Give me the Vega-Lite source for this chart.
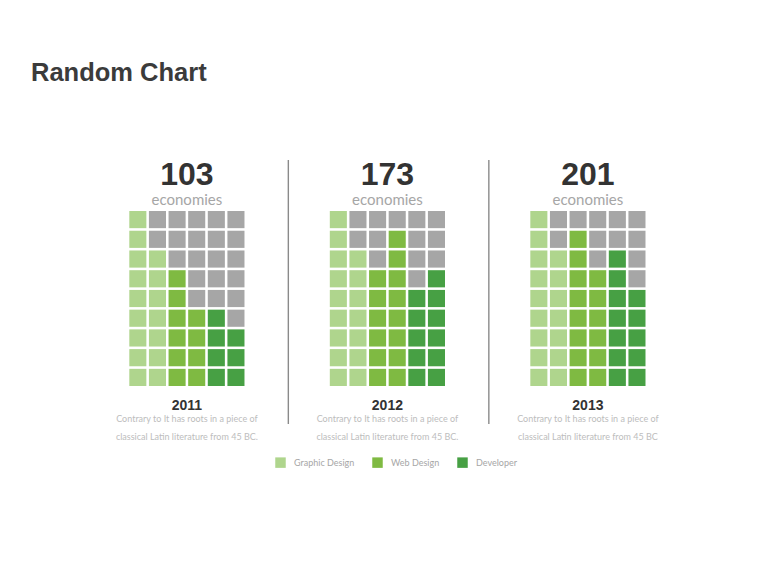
{
  "$schema": "https://vega.github.io/schema/vega-lite/v6.json",
  "width": 780,
  "height": 495,
  "autosize": {"type": "none"},
  "padding": {"left": 0, "top": 90, "right": 0, "bottom": 0},
  "background": "white",
  "title": {"text": "Random Chart", "anchor": "start", "frame": "group", "dx": 31, "offset": 4, "font": "Liberation Sans", "fontSize": 25.5, "fontWeight": "bold", "color": "#3b3b3b"},
  "config": {"view": {"stroke": null}},
  "datasets": {
    "years": [
      {"year": "2011", "total": 103, "unit": "economies", "line1": "Contrary to It has roots in a piece of", "line2": "classical Latin literature from 45 BC."},
      {"year": "2012", "total": 173, "unit": "economies", "line1": "Contrary to It has roots in a piece of", "line2": "classical Latin literature from 45 BC."},
      {"year": "2013", "total": 201, "unit": "economies", "line1": "Contrary to It has roots in a piece of", "line2": "classical Latin literature from 45 BC"}
    ],
    "cells": [
      {"year":"2011","row":1,"col":1,"cat":"Graphic Design"},{"year":"2011","row":1,"col":2,"cat":"Other"},{"year":"2011","row":1,"col":3,"cat":"Other"},{"year":"2011","row":1,"col":4,"cat":"Other"},{"year":"2011","row":1,"col":5,"cat":"Other"},{"year":"2011","row":1,"col":6,"cat":"Other"},
      {"year":"2011","row":2,"col":1,"cat":"Graphic Design"},{"year":"2011","row":2,"col":2,"cat":"Other"},{"year":"2011","row":2,"col":3,"cat":"Other"},{"year":"2011","row":2,"col":4,"cat":"Other"},{"year":"2011","row":2,"col":5,"cat":"Other"},{"year":"2011","row":2,"col":6,"cat":"Other"},
      {"year":"2011","row":3,"col":1,"cat":"Graphic Design"},{"year":"2011","row":3,"col":2,"cat":"Graphic Design"},{"year":"2011","row":3,"col":3,"cat":"Other"},{"year":"2011","row":3,"col":4,"cat":"Other"},{"year":"2011","row":3,"col":5,"cat":"Other"},{"year":"2011","row":3,"col":6,"cat":"Other"},
      {"year":"2011","row":4,"col":1,"cat":"Graphic Design"},{"year":"2011","row":4,"col":2,"cat":"Graphic Design"},{"year":"2011","row":4,"col":3,"cat":"Web Design"},{"year":"2011","row":4,"col":4,"cat":"Other"},{"year":"2011","row":4,"col":5,"cat":"Other"},{"year":"2011","row":4,"col":6,"cat":"Other"},
      {"year":"2011","row":5,"col":1,"cat":"Graphic Design"},{"year":"2011","row":5,"col":2,"cat":"Graphic Design"},{"year":"2011","row":5,"col":3,"cat":"Web Design"},{"year":"2011","row":5,"col":4,"cat":"Other"},{"year":"2011","row":5,"col":5,"cat":"Other"},{"year":"2011","row":5,"col":6,"cat":"Other"},
      {"year":"2011","row":6,"col":1,"cat":"Graphic Design"},{"year":"2011","row":6,"col":2,"cat":"Graphic Design"},{"year":"2011","row":6,"col":3,"cat":"Web Design"},{"year":"2011","row":6,"col":4,"cat":"Web Design"},{"year":"2011","row":6,"col":5,"cat":"Developer"},{"year":"2011","row":6,"col":6,"cat":"Other"},
      {"year":"2011","row":7,"col":1,"cat":"Graphic Design"},{"year":"2011","row":7,"col":2,"cat":"Graphic Design"},{"year":"2011","row":7,"col":3,"cat":"Web Design"},{"year":"2011","row":7,"col":4,"cat":"Web Design"},{"year":"2011","row":7,"col":5,"cat":"Developer"},{"year":"2011","row":7,"col":6,"cat":"Developer"},
      {"year":"2011","row":8,"col":1,"cat":"Graphic Design"},{"year":"2011","row":8,"col":2,"cat":"Graphic Design"},{"year":"2011","row":8,"col":3,"cat":"Web Design"},{"year":"2011","row":8,"col":4,"cat":"Web Design"},{"year":"2011","row":8,"col":5,"cat":"Developer"},{"year":"2011","row":8,"col":6,"cat":"Developer"},
      {"year":"2011","row":9,"col":1,"cat":"Graphic Design"},{"year":"2011","row":9,"col":2,"cat":"Graphic Design"},{"year":"2011","row":9,"col":3,"cat":"Web Design"},{"year":"2011","row":9,"col":4,"cat":"Web Design"},{"year":"2011","row":9,"col":5,"cat":"Developer"},{"year":"2011","row":9,"col":6,"cat":"Developer"},
      {"year":"2012","row":1,"col":1,"cat":"Graphic Design"},{"year":"2012","row":1,"col":2,"cat":"Other"},{"year":"2012","row":1,"col":3,"cat":"Other"},{"year":"2012","row":1,"col":4,"cat":"Other"},{"year":"2012","row":1,"col":5,"cat":"Other"},{"year":"2012","row":1,"col":6,"cat":"Other"},
      {"year":"2012","row":2,"col":1,"cat":"Graphic Design"},{"year":"2012","row":2,"col":2,"cat":"Other"},{"year":"2012","row":2,"col":3,"cat":"Other"},{"year":"2012","row":2,"col":4,"cat":"Web Design"},{"year":"2012","row":2,"col":5,"cat":"Other"},{"year":"2012","row":2,"col":6,"cat":"Other"},
      {"year":"2012","row":3,"col":1,"cat":"Graphic Design"},{"year":"2012","row":3,"col":2,"cat":"Graphic Design"},{"year":"2012","row":3,"col":3,"cat":"Other"},{"year":"2012","row":3,"col":4,"cat":"Web Design"},{"year":"2012","row":3,"col":5,"cat":"Other"},{"year":"2012","row":3,"col":6,"cat":"Other"},
      {"year":"2012","row":4,"col":1,"cat":"Graphic Design"},{"year":"2012","row":4,"col":2,"cat":"Graphic Design"},{"year":"2012","row":4,"col":3,"cat":"Web Design"},{"year":"2012","row":4,"col":4,"cat":"Web Design"},{"year":"2012","row":4,"col":5,"cat":"Other"},{"year":"2012","row":4,"col":6,"cat":"Developer"},
      {"year":"2012","row":5,"col":1,"cat":"Graphic Design"},{"year":"2012","row":5,"col":2,"cat":"Graphic Design"},{"year":"2012","row":5,"col":3,"cat":"Web Design"},{"year":"2012","row":5,"col":4,"cat":"Web Design"},{"year":"2012","row":5,"col":5,"cat":"Developer"},{"year":"2012","row":5,"col":6,"cat":"Developer"},
      {"year":"2012","row":6,"col":1,"cat":"Graphic Design"},{"year":"2012","row":6,"col":2,"cat":"Graphic Design"},{"year":"2012","row":6,"col":3,"cat":"Web Design"},{"year":"2012","row":6,"col":4,"cat":"Web Design"},{"year":"2012","row":6,"col":5,"cat":"Developer"},{"year":"2012","row":6,"col":6,"cat":"Developer"},
      {"year":"2012","row":7,"col":1,"cat":"Graphic Design"},{"year":"2012","row":7,"col":2,"cat":"Graphic Design"},{"year":"2012","row":7,"col":3,"cat":"Web Design"},{"year":"2012","row":7,"col":4,"cat":"Web Design"},{"year":"2012","row":7,"col":5,"cat":"Developer"},{"year":"2012","row":7,"col":6,"cat":"Developer"},
      {"year":"2012","row":8,"col":1,"cat":"Graphic Design"},{"year":"2012","row":8,"col":2,"cat":"Graphic Design"},{"year":"2012","row":8,"col":3,"cat":"Web Design"},{"year":"2012","row":8,"col":4,"cat":"Web Design"},{"year":"2012","row":8,"col":5,"cat":"Developer"},{"year":"2012","row":8,"col":6,"cat":"Developer"},
      {"year":"2012","row":9,"col":1,"cat":"Graphic Design"},{"year":"2012","row":9,"col":2,"cat":"Graphic Design"},{"year":"2012","row":9,"col":3,"cat":"Web Design"},{"year":"2012","row":9,"col":4,"cat":"Web Design"},{"year":"2012","row":9,"col":5,"cat":"Developer"},{"year":"2012","row":9,"col":6,"cat":"Developer"},
      {"year":"2013","row":1,"col":1,"cat":"Graphic Design"},{"year":"2013","row":1,"col":2,"cat":"Other"},{"year":"2013","row":1,"col":3,"cat":"Other"},{"year":"2013","row":1,"col":4,"cat":"Other"},{"year":"2013","row":1,"col":5,"cat":"Other"},{"year":"2013","row":1,"col":6,"cat":"Other"},
      {"year":"2013","row":2,"col":1,"cat":"Graphic Design"},{"year":"2013","row":2,"col":2,"cat":"Other"},{"year":"2013","row":2,"col":3,"cat":"Web Design"},{"year":"2013","row":2,"col":4,"cat":"Other"},{"year":"2013","row":2,"col":5,"cat":"Other"},{"year":"2013","row":2,"col":6,"cat":"Other"},
      {"year":"2013","row":3,"col":1,"cat":"Graphic Design"},{"year":"2013","row":3,"col":2,"cat":"Graphic Design"},{"year":"2013","row":3,"col":3,"cat":"Web Design"},{"year":"2013","row":3,"col":4,"cat":"Other"},{"year":"2013","row":3,"col":5,"cat":"Developer"},{"year":"2013","row":3,"col":6,"cat":"Other"},
      {"year":"2013","row":4,"col":1,"cat":"Graphic Design"},{"year":"2013","row":4,"col":2,"cat":"Graphic Design"},{"year":"2013","row":4,"col":3,"cat":"Web Design"},{"year":"2013","row":4,"col":4,"cat":"Web Design"},{"year":"2013","row":4,"col":5,"cat":"Developer"},{"year":"2013","row":4,"col":6,"cat":"Other"},
      {"year":"2013","row":5,"col":1,"cat":"Graphic Design"},{"year":"2013","row":5,"col":2,"cat":"Graphic Design"},{"year":"2013","row":5,"col":3,"cat":"Web Design"},{"year":"2013","row":5,"col":4,"cat":"Web Design"},{"year":"2013","row":5,"col":5,"cat":"Developer"},{"year":"2013","row":5,"col":6,"cat":"Developer"},
      {"year":"2013","row":6,"col":1,"cat":"Graphic Design"},{"year":"2013","row":6,"col":2,"cat":"Graphic Design"},{"year":"2013","row":6,"col":3,"cat":"Web Design"},{"year":"2013","row":6,"col":4,"cat":"Web Design"},{"year":"2013","row":6,"col":5,"cat":"Developer"},{"year":"2013","row":6,"col":6,"cat":"Developer"},
      {"year":"2013","row":7,"col":1,"cat":"Graphic Design"},{"year":"2013","row":7,"col":2,"cat":"Graphic Design"},{"year":"2013","row":7,"col":3,"cat":"Web Design"},{"year":"2013","row":7,"col":4,"cat":"Web Design"},{"year":"2013","row":7,"col":5,"cat":"Developer"},{"year":"2013","row":7,"col":6,"cat":"Developer"},
      {"year":"2013","row":8,"col":1,"cat":"Graphic Design"},{"year":"2013","row":8,"col":2,"cat":"Graphic Design"},{"year":"2013","row":8,"col":3,"cat":"Web Design"},{"year":"2013","row":8,"col":4,"cat":"Web Design"},{"year":"2013","row":8,"col":5,"cat":"Developer"},{"year":"2013","row":8,"col":6,"cat":"Developer"},
      {"year":"2013","row":9,"col":1,"cat":"Graphic Design"},{"year":"2013","row":9,"col":2,"cat":"Graphic Design"},{"year":"2013","row":9,"col":3,"cat":"Web Design"},{"year":"2013","row":9,"col":4,"cat":"Web Design"},{"year":"2013","row":9,"col":5,"cat":"Developer"},{"year":"2013","row":9,"col":6,"cat":"Developer"}
    ]
  },
  "resolve": {"scale": {"y": "independent"}},
  "layer": [
    {
      "layer": [
        {
          "data": {"name": "cells"},
          "mark": {"type": "rect"},
          "encoding": {
            "x": {"field": "year", "type": "nominal", "axis": null, "scale": {"domain": ["2011", "2012", "2013"], "range": [129.3, 645.5], "paddingInner": 0.4255, "paddingOuter": 0}},
            "xOffset": {"field": "col", "type": "ordinal", "scale": {"domain": [1, 2, 3, 4, 5, 6], "paddingInner": 0.13, "paddingOuter": 0}},
            "y": {"field": "row", "type": "ordinal", "axis": null, "scale": {"domain": [1, 2, 3, 4, 5, 6, 7, 8, 9], "range": [121, 296], "paddingInner": 0.13, "paddingOuter": 0}},
            "color": {
              "field": "cat", "type": "nominal",
              "scale": {"domain": ["Graphic Design", "Web Design", "Developer", "Other"], "range": ["#afd58d", "#7fba42", "#47a044", "#a6a6a6"]},
              "legend": {"title": null, "orient": "none", "legendX": 275, "legendY": 367, "direction": "horizontal", "values": ["Graphic Design", "Web Design", "Developer"], "symbolType": "square", "symbolSize": 110, "symbolStrokeWidth": 0, "labelFont": "Lato", "labelFontSize": 9, "labelColor": "#a6a6a6", "labelOffset": 8, "columnPadding": 17, "padding": 0}
            }
          }
        },
        {
          "data": {"name": "years"},
          "mark": {"type": "text", "font": "Liberation Sans", "fontSize": 32, "fontWeight": "bold", "color": "#333333", "baseline": "alphabetic", "dy": -35},
          "encoding": {
            "x": {"field": "year", "type": "nominal"},
            "y": {"datum": 1, "type": "ordinal"},
            "text": {"field": "total"}
          }
        },
        {
          "data": {"name": "years"},
          "mark": {"type": "text", "font": "Lato", "fontSize": 15, "color": "#a6a6a6", "baseline": "alphabetic", "dy": -15},
          "encoding": {
            "x": {"field": "year", "type": "nominal"},
            "y": {"datum": 1, "type": "ordinal"},
            "text": {"field": "unit"}
          }
        },
        {
          "data": {"name": "years"},
          "mark": {"type": "text", "font": "Liberation Sans", "fontSize": 14, "fontWeight": "bold", "color": "#333333", "baseline": "alphabetic", "dy": 33},
          "encoding": {
            "x": {"field": "year", "type": "nominal"},
            "y": {"datum": 9, "type": "ordinal"},
            "text": {"field": "year"}
          }
        },
        {
          "data": {"name": "years"},
          "mark": {"type": "text", "font": "Lato", "fontSize": 9, "color": "#bdbdbd", "baseline": "alphabetic", "dy": 45},
          "encoding": {
            "x": {"field": "year", "type": "nominal"},
            "y": {"datum": 9, "type": "ordinal"},
            "text": {"field": "line1"}
          }
        },
        {
          "data": {"name": "years"},
          "mark": {"type": "text", "font": "Lato", "fontSize": 9, "color": "#bdbdbd", "baseline": "alphabetic", "dy": 63},
          "encoding": {
            "x": {"field": "year", "type": "nominal"},
            "y": {"datum": 9, "type": "ordinal"},
            "text": {"field": "line2"}
          }
        }
      ]
    },
    {
      "data": {"name": "years"},
      "transform": [{"filter": "datum.year !== '2011'"}],
      "mark": {"type": "rule", "color": "#8a8a8a", "strokeWidth": 1.4},
      "encoding": {
        "x": {"field": "year", "type": "nominal", "bandPosition": -0.36},
        "y": {"datum": 0, "type": "quantitative", "axis": null, "scale": {"domain": [0, 1], "range": [70, 334]}},
        "y2": {"datum": 1}
      }
    }
  ]
}
